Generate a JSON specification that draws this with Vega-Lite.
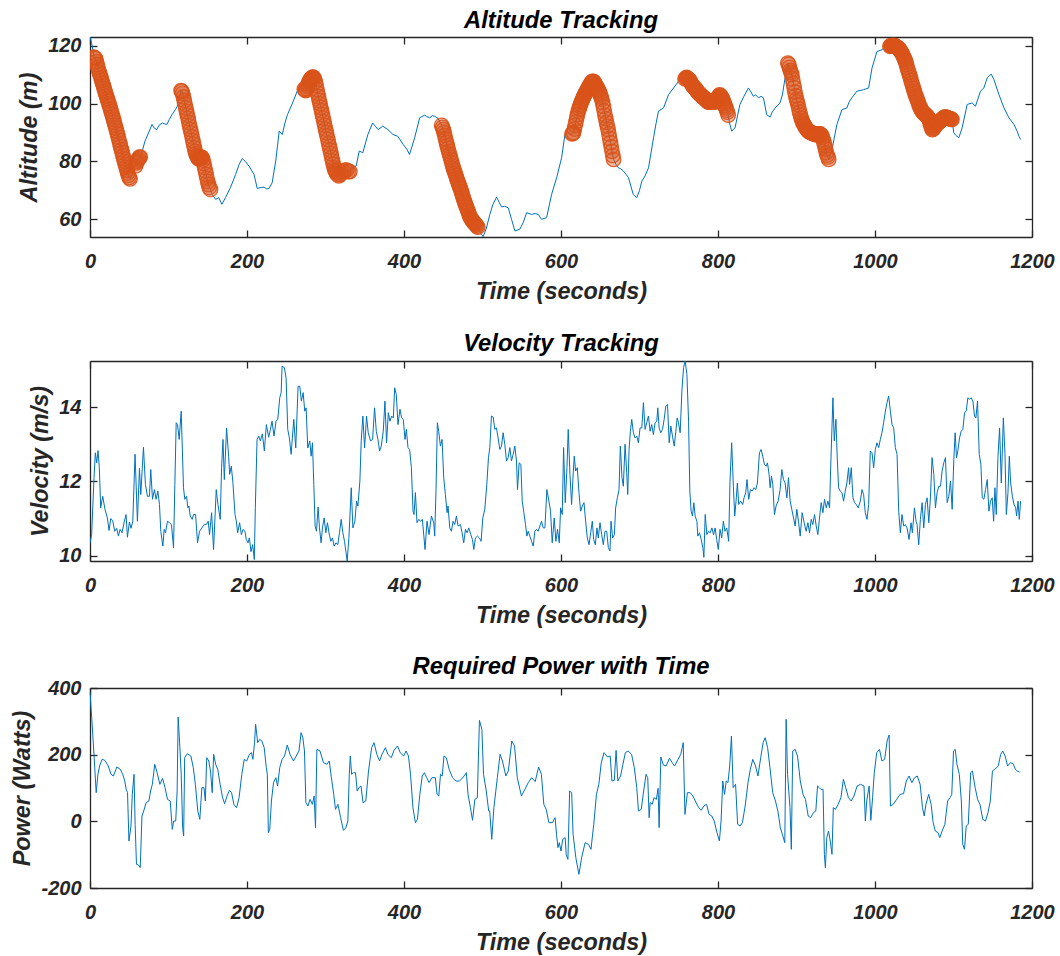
{
"$schema": "https://vega.github.io/schema/vega-lite/v6.json",
"padding": {"left": 10, "top": 8, "right": 5, "bottom": 5},
"spacing": 28,
"config": {
 "font": "Liberation Sans",
 "view": {"stroke": null},
 "axis": {"labelFont": "Liberation Sans", "labelFontSize": 20, "labelFontWeight": "bold", "labelFontStyle": "italic", "labelColor": "#262626", "titleFont": "Liberation Sans", "titleFontSize": 23.4, "titleFontWeight": "bold", "titleFontStyle": "italic", "titleColor": "#262626", "domainColor": "#262626", "domainWidth": 1.3, "tickColor": "#262626", "tickWidth": 1.3, "tickSize": -7, "grid": false, "labelFlush": false, "labelOverlap": false, "labelPadding": 16, "titlePadding": 4},
 "axisX": {"labelPadding": 21, "titlePadding": 9},
 "axisY": {"titlePadding": 6},
 "title": {"font": "Liberation Sans", "fontSize": 23.8, "fontWeight": "bold", "fontStyle": "italic", "color": "#000000", "offset": 5, "frame": "group", "anchor": "middle"}
},
"datasets": {
"alt": [
{"t":0,"h":123,"c":0},{"t":2,"h":121,"c":0},{"t":4,"h":118,"c":0},
{"t":5,"h":116,"c":1},{"t":6,"h":115.8,"c":1},{"t":7,"h":115.5,"c":1},{"t":8,"h":114.5,"c":1},{"t":9,"h":113.5,"c":1},{"t":10,"h":112.5,"c":1},{"t":11,"h":111.5,"c":1},{"t":12,"h":110.6,"c":1},{"t":13,"h":109.8,"c":1},{"t":14,"h":108.9,"c":1},{"t":15,"h":108,"c":1},{"t":16,"h":107.1,"c":1},{"t":17,"h":106.2,"c":1},{"t":18,"h":105.2,"c":1},{"t":19,"h":104.3,"c":1},{"t":20,"h":103.5,"c":1},{"t":21,"h":102.6,"c":1},{"t":22,"h":101.7,"c":1},{"t":23,"h":100.9,"c":1},{"t":24,"h":100,"c":1},{"t":25,"h":99.2,"c":1},{"t":26,"h":98.2,"c":1},{"t":27,"h":97.3,"c":1},{"t":28,"h":96.4,"c":1},{"t":29,"h":95.5,"c":1},{"t":30,"h":94.5,"c":1},{"t":31,"h":93.5,"c":1},{"t":32,"h":92.5,"c":1},{"t":33,"h":91.5,"c":1},{"t":34,"h":90.5,"c":1},{"t":35,"h":89.5,"c":1},{"t":36,"h":88.4,"c":1},{"t":37,"h":87.3,"c":1},{"t":38,"h":86.2,"c":1},{"t":39,"h":85.2,"c":1},{"t":40,"h":84.1,"c":1},{"t":41,"h":83.1,"c":1},{"t":42,"h":82,"c":1},{"t":43,"h":81,"c":1},{"t":44,"h":80,"c":1},{"t":45,"h":79,"c":1},{"t":46,"h":78,"c":1},{"t":47,"h":77,"c":1},{"t":48,"h":76,"c":1},{"t":49,"h":75.2,"c":1},{"t":50,"h":74.5,"c":1},{"t":51,"h":74,"c":1},
{"t":53,"h":75,"c":0},{"t":56,"h":77.5,"c":0},
{"t":58,"h":78.5,"c":1},{"t":59,"h":79.5,"c":1},{"t":60,"h":80,"c":1},{"t":61,"h":80.5,"c":1},{"t":62,"h":81,"c":1},{"t":63,"h":81.5,"c":1},{"t":64,"h":81.5,"c":1},
{"t":66,"h":83,"c":0},{"t":68,"h":85,"c":0},{"t":70,"h":87,"c":0},{"t":74,"h":89.5,"c":0},{"t":79,"h":92.8,"c":0},{"t":82,"h":91.5,"c":0},{"t":85,"h":91,"c":0},{"t":88,"h":92.5,"c":0},{"t":92,"h":93.3,"c":0},{"t":95,"h":93,"c":0},{"t":98,"h":92.8,"c":0},{"t":101,"h":94.5,"c":0},{"t":104.5,"h":96.2,"c":0},{"t":109,"h":98,"c":0},{"t":111,"h":99,"c":0},{"t":113,"h":101,"c":0},
{"t":116,"h":104.5,"c":1},{"t":117,"h":104.2,"c":1},{"t":118,"h":103.5,"c":1},{"t":119,"h":102.3,"c":1},{"t":120,"h":101,"c":1},{"t":121,"h":99.8,"c":1},{"t":122,"h":98.5,"c":1},{"t":123,"h":97.2,"c":1},{"t":124,"h":96,"c":1},{"t":125,"h":94.8,"c":1},{"t":126,"h":93.5,"c":1},{"t":127,"h":92.2,"c":1},{"t":128,"h":91,"c":1},{"t":129,"h":89.8,"c":1},{"t":130,"h":88.5,"c":1},{"t":131,"h":87.2,"c":1},{"t":132,"h":86,"c":1},{"t":133,"h":84.7,"c":1},{"t":134,"h":83.5,"c":1},{"t":135,"h":82.7,"c":1},{"t":136,"h":82,"c":1},{"t":137,"h":81.5,"c":1},{"t":138,"h":81,"c":1},{"t":139,"h":81,"c":1},{"t":140,"h":81,"c":1},{"t":141,"h":81.3,"c":1},{"t":142,"h":81.5,"c":1},{"t":143,"h":81.2,"c":1},{"t":144,"h":80.5,"c":1},{"t":145,"h":79.3,"c":1},{"t":146,"h":78,"c":1},{"t":147,"h":76.8,"c":1},{"t":148,"h":75.5,"c":1},{"t":149,"h":74.2,"c":1},{"t":150,"h":73,"c":1},{"t":151,"h":72,"c":1},{"t":152,"h":71,"c":1},{"t":153.5,"h":70.3,"c":1},
{"t":156,"h":68.5,"c":0},{"t":160,"h":66.9,"c":0},{"t":164,"h":67.5,"c":0},{"t":168,"h":65.2,"c":0},{"t":172.6,"h":67.5,"c":0},{"t":179,"h":71,"c":0},{"t":185.5,"h":75.5,"c":0},{"t":190,"h":79,"c":0},{"t":194,"h":81,"c":0},{"t":198,"h":80,"c":0},{"t":202.5,"h":78.4,"c":0},{"t":209,"h":75.5,"c":0},{"t":213,"h":70.7,"c":0},{"t":218,"h":71,"c":0},{"t":221.7,"h":71.1,"c":0},{"t":225,"h":70.5,"c":0},{"t":228,"h":70.7,"c":0},{"t":232,"h":72.6,"c":0},{"t":236.6,"h":80.1,"c":0},{"t":241,"h":90.5,"c":0},{"t":245,"h":89.3,"c":0},{"t":248,"h":93,"c":0},{"t":251.6,"h":96.2,"c":0},{"t":258,"h":100.2,"c":0},{"t":264,"h":104.3,"c":0},{"t":268,"h":105.5,"c":0},{"t":271,"h":104.5,"c":0},
{"t":273,"h":105,"c":1},{"t":274,"h":104.7,"c":1},{"t":275,"h":104.5,"c":1},{"t":276,"h":105.2,"c":1},{"t":277,"h":106,"c":1},{"t":278,"h":106.8,"c":1},{"t":279,"h":107.5,"c":1},{"t":280,"h":108,"c":1},{"t":281,"h":108.5,"c":1},{"t":282,"h":108.8,"c":1},{"t":283,"h":109,"c":1},{"t":284,"h":109.1,"c":1},{"t":285,"h":109,"c":1},{"t":286,"h":108.4,"c":1},{"t":287,"h":107.5,"c":1},{"t":288,"h":106.2,"c":1},{"t":289,"h":104.8,"c":1},{"t":290,"h":103.6,"c":1},{"t":291,"h":102.4,"c":1},{"t":292,"h":101.1,"c":1},{"t":293,"h":99.9,"c":1},{"t":294,"h":98.7,"c":1},{"t":295,"h":97.5,"c":1},{"t":296,"h":96.2,"c":1},{"t":297,"h":95,"c":1},{"t":298,"h":93.7,"c":1},{"t":299,"h":92.5,"c":1},{"t":300,"h":91.2,"c":1},{"t":301,"h":90,"c":1},{"t":302,"h":88.8,"c":1},{"t":303,"h":87.6,"c":1},{"t":304,"h":86.3,"c":1},{"t":305,"h":85.1,"c":1},{"t":306,"h":83.9,"c":1},{"t":307,"h":82.7,"c":1},{"t":308,"h":81.4,"c":1},{"t":309,"h":80.2,"c":1},{"t":310,"h":79,"c":1},{"t":311,"h":77.8,"c":1},{"t":312,"h":77.1,"c":1},{"t":313,"h":76.5,"c":1},{"t":314,"h":76,"c":1},{"t":315,"h":75.5,"c":1},{"t":317,"h":75,"c":1},{"t":319,"h":75.5,"c":1},{"t":321,"h":76,"c":1},{"t":323,"h":76.5,"c":1},{"t":325,"h":77,"c":1},{"t":327,"h":77,"c":1},{"t":329,"h":76.5,"c":1},{"t":331,"h":76.5,"c":1},
{"t":335,"h":78,"c":0},{"t":339,"h":78.4,"c":0},{"t":343,"h":83.6,"c":0},{"t":347.5,"h":83,"c":0},{"t":354,"h":89.3,"c":0},{"t":360,"h":93.3,"c":0},{"t":364,"h":92,"c":0},{"t":367,"h":91,"c":0},{"t":373,"h":92.2,"c":0},{"t":379.5,"h":91,"c":0},{"t":386,"h":89.3,"c":0},{"t":392,"h":88.7,"c":0},{"t":399,"h":85.9,"c":0},{"t":404,"h":84.1,"c":0},{"t":407,"h":82.4,"c":0},{"t":410,"h":85,"c":0},{"t":413.6,"h":88.2,"c":0},{"t":420,"h":95.1,"c":0},{"t":426.4,"h":96,"c":0},{"t":429,"h":95.5,"c":0},{"t":432.8,"h":95.1,"c":0},{"t":436,"h":95.8,"c":0},{"t":439,"h":95.6,"c":0},{"t":443,"h":95,"c":0},{"t":446,"h":93.5,"c":0},
{"t":448,"h":92.5,"c":1},{"t":449,"h":91.8,"c":1},{"t":450,"h":91,"c":1},{"t":451,"h":90,"c":1},{"t":452,"h":89,"c":1},{"t":453,"h":87.7,"c":1},{"t":454,"h":86.5,"c":1},{"t":455,"h":85.5,"c":1},{"t":456,"h":84.5,"c":1},{"t":457,"h":83.5,"c":1},{"t":458,"h":82.5,"c":1},{"t":459,"h":81.5,"c":1},{"t":460,"h":80.5,"c":1},{"t":461,"h":79.5,"c":1},{"t":462,"h":78.5,"c":1},{"t":463,"h":77.6,"c":1},{"t":464,"h":76.8,"c":1},{"t":465,"h":76,"c":1},{"t":466,"h":75.2,"c":1},{"t":467,"h":74.3,"c":1},{"t":468,"h":73.5,"c":1},{"t":469,"h":72.7,"c":1},{"t":470,"h":72,"c":1},{"t":471,"h":71.2,"c":1},{"t":472,"h":70.5,"c":1},{"t":473,"h":69.6,"c":1},{"t":474,"h":68.8,"c":1},{"t":475,"h":67.9,"c":1},{"t":476,"h":67,"c":1},{"t":477,"h":66.2,"c":1},{"t":478,"h":65.5,"c":1},{"t":479,"h":64.7,"c":1},{"t":480,"h":64,"c":1},{"t":481,"h":63.2,"c":1},{"t":482,"h":62.5,"c":1},{"t":483,"h":61.7,"c":1},{"t":484,"h":61,"c":1},{"t":485,"h":60.5,"c":1},{"t":486,"h":60,"c":1},{"t":487,"h":59.6,"c":1},{"t":488,"h":59.3,"c":1},{"t":489,"h":58.9,"c":1},{"t":490,"h":58.6,"c":1},{"t":491,"h":58.3,"c":1},{"t":492,"h":58,"c":1},{"t":493,"h":57.6,"c":1},{"t":494,"h":57.3,"c":1},
{"t":497,"h":55.5,"c":0},{"t":500.8,"h":54,"c":0},{"t":505,"h":57,"c":0},{"t":509.4,"h":61.7,"c":0},{"t":513,"h":65,"c":0},{"t":517.9,"h":67.7,"c":0},{"t":521,"h":66,"c":0},{"t":524.2,"h":64.3,"c":0},{"t":528,"h":64.5,"c":0},{"t":532.8,"h":64,"c":0},{"t":537,"h":60,"c":0},{"t":541.3,"h":56,"c":0},{"t":547.6,"h":56.6,"c":0},{"t":552,"h":59,"c":0},{"t":556.2,"h":62.3,"c":0},{"t":562.5,"h":61.7,"c":0},{"t":567,"h":62,"c":0},{"t":571,"h":61.7,"c":0},{"t":575.3,"h":60,"c":0},{"t":581.7,"h":60.6,"c":0},{"t":588,"h":68.6,"c":0},{"t":594.5,"h":74.4,"c":0},{"t":600.8,"h":81.3,"c":0},{"t":605,"h":89.3,"c":0},{"t":609,"h":90,"c":0},{"t":612,"h":89.5,"c":0},
{"t":614,"h":89.5,"c":1},{"t":615,"h":89.7,"c":1},{"t":616,"h":90,"c":1},{"t":617,"h":91.2,"c":1},{"t":618,"h":92.5,"c":1},{"t":619,"h":93.7,"c":1},{"t":620,"h":95,"c":1},{"t":621,"h":96.2,"c":1},{"t":622,"h":97.4,"c":1},{"t":623,"h":98.2,"c":1},{"t":624,"h":99,"c":1},{"t":625,"h":99.8,"c":1},{"t":626,"h":100.5,"c":1},{"t":627,"h":101.2,"c":1},{"t":628,"h":101.8,"c":1},{"t":629,"h":102.4,"c":1},{"t":630,"h":103,"c":1},{"t":631,"h":103.5,"c":1},{"t":632,"h":104,"c":1},{"t":633,"h":104.5,"c":1},{"t":634,"h":105,"c":1},{"t":635,"h":105.5,"c":1},{"t":636,"h":106,"c":1},{"t":637,"h":106.5,"c":1},{"t":638,"h":107,"c":1},{"t":639,"h":107.4,"c":1},{"t":640,"h":107.7,"c":1},{"t":641,"h":107.7,"c":1},{"t":642,"h":107.5,"c":1},{"t":643,"h":107,"c":1},{"t":644,"h":106.5,"c":1},{"t":645,"h":106,"c":1},{"t":646,"h":105.5,"c":1},{"t":647,"h":105,"c":1},{"t":648,"h":104.5,"c":1},{"t":649,"h":103.8,"c":1},{"t":650,"h":103,"c":1},{"t":651,"h":102.3,"c":1},{"t":652,"h":101.5,"c":1},{"t":653,"h":100.3,"c":1},{"t":654,"h":99,"c":1},{"t":655,"h":97.5,"c":1},{"t":656,"h":96,"c":1},{"t":657,"h":94.8,"c":1},{"t":658,"h":93.5,"c":1},{"t":659,"h":92.2,"c":1},{"t":660,"h":91,"c":1},{"t":661,"h":89.5,"c":1},{"t":662,"h":88,"c":1},{"t":663,"h":86.5,"c":1},{"t":664,"h":85,"c":1},{"t":665,"h":83.5,"c":1},{"t":666,"h":82,"c":1},{"t":667,"h":80.7,"c":1},
{"t":670,"h":79,"c":0},{"t":673,"h":77.8,"c":0},{"t":676,"h":77.5,"c":0},{"t":679.5,"h":76.7,"c":0},{"t":683,"h":75.5,"c":0},{"t":686,"h":74.4,"c":0},{"t":692,"h":68.6,"c":0},{"t":696.6,"h":67.5,"c":0},{"t":700,"h":70,"c":0},{"t":703,"h":73.2,"c":0},{"t":707,"h":75,"c":0},{"t":711.5,"h":77.8,"c":0},{"t":717.9,"h":88.2,"c":0},{"t":721,"h":93,"c":0},{"t":724.2,"h":97.4,"c":0},{"t":730.6,"h":98.5,"c":0},{"t":737,"h":103.1,"c":0},{"t":743.4,"h":105.4,"c":0},{"t":749.8,"h":107.7,"c":0},{"t":754,"h":108.5,"c":0},
{"t":758,"h":108.5,"c":1},{"t":759,"h":108.8,"c":1},{"t":760,"h":109,"c":1},{"t":761,"h":108.8,"c":1},{"t":762,"h":108.5,"c":1},{"t":763,"h":108.3,"c":1},{"t":764,"h":108,"c":1},{"t":765,"h":107.5,"c":1},{"t":766,"h":107,"c":1},{"t":767,"h":106.5,"c":1},{"t":768,"h":106,"c":1},{"t":769,"h":105.8,"c":1},{"t":770,"h":105.5,"c":1},{"t":771,"h":105.2,"c":1},{"t":772,"h":105,"c":1},{"t":773,"h":104.5,"c":1},{"t":774,"h":104,"c":1},{"t":775,"h":103.8,"c":1},{"t":776,"h":103.5,"c":1},{"t":777,"h":103.2,"c":1},{"t":778,"h":103,"c":1},{"t":779,"h":102.7,"c":1},{"t":780,"h":102.5,"c":1},{"t":781,"h":102.2,"c":1},{"t":782,"h":102,"c":1},{"t":783,"h":101.7,"c":1},{"t":784,"h":101.5,"c":1},{"t":785,"h":101.2,"c":1},{"t":786,"h":101,"c":1},{"t":787,"h":100.7,"c":1},{"t":788,"h":100.5,"c":1},{"t":789,"h":100.5,"c":1},{"t":790,"h":100.5,"c":1},{"t":791,"h":100.7,"c":1},{"t":792,"h":101,"c":1},{"t":793,"h":101,"c":1},{"t":794,"h":101,"c":1},{"t":795,"h":100.7,"c":1},{"t":796,"h":100.5,"c":1},{"t":797,"h":100.7,"c":1},{"t":798,"h":101,"c":1},{"t":799,"h":101.5,"c":1},{"t":800,"h":102,"c":1},{"t":801,"h":102.5,"c":1},{"t":802,"h":103,"c":1},{"t":803,"h":102.8,"c":1},{"t":804,"h":102.5,"c":1},{"t":805,"h":102,"c":1},{"t":806,"h":101.5,"c":1},{"t":807,"h":100.8,"c":1},{"t":808,"h":100,"c":1},{"t":809,"h":99.2,"c":1},{"t":810,"h":98.5,"c":1},{"t":811,"h":97.7,"c":1},{"t":812,"h":97,"c":1},{"t":813,"h":96,"c":1},
{"t":815,"h":93,"c":0},{"t":817.4,"h":90.5,"c":0},{"t":821.7,"h":91.6,"c":0},{"t":825,"h":96,"c":0},{"t":828,"h":99.7,"c":0},{"t":833,"h":102.5,"c":0},{"t":838.7,"h":105.4,"c":0},{"t":842,"h":104,"c":0},{"t":845,"h":102.5,"c":0},{"t":848,"h":103,"c":0},{"t":851.5,"h":102,"c":0},{"t":855,"h":102.5,"c":0},{"t":857.9,"h":102,"c":0},{"t":862,"h":96.2,"c":0},{"t":866.4,"h":95.3,"c":0},{"t":869,"h":97,"c":0},{"t":872.8,"h":98.5,"c":0},{"t":879,"h":100.2,"c":0},{"t":882,"h":103,"c":0},{"t":885.5,"h":108.9,"c":0},
{"t":889,"h":114,"c":1},{"t":890,"h":113.5,"c":1},{"t":891,"h":112.5,"c":1},{"t":892,"h":111.5,"c":1},{"t":893,"h":110.8,"c":1},{"t":894,"h":110,"c":1},{"t":895,"h":108.5,"c":1},{"t":896,"h":107,"c":1},{"t":897,"h":105.5,"c":1},{"t":898,"h":104,"c":1},{"t":899,"h":102.7,"c":1},{"t":900,"h":101.5,"c":1},{"t":901,"h":100.5,"c":1},{"t":902,"h":99.5,"c":1},{"t":903,"h":98.2,"c":1},{"t":904,"h":97,"c":1},{"t":905,"h":96,"c":1},{"t":906,"h":95,"c":1},{"t":907,"h":94.2,"c":1},{"t":908,"h":93.5,"c":1},{"t":909,"h":93,"c":1},{"t":910,"h":92.5,"c":1},{"t":911,"h":92,"c":1},{"t":912,"h":91.5,"c":1},{"t":913,"h":91.2,"c":1},{"t":914,"h":90.8,"c":1},{"t":915,"h":90.5,"c":1},{"t":916,"h":90.3,"c":1},{"t":917,"h":90.1,"c":1},{"t":918,"h":90,"c":1},{"t":919,"h":89.9,"c":1},{"t":920,"h":89.8,"c":1},{"t":921,"h":89.7,"c":1},{"t":922,"h":89.5,"c":1},{"t":923,"h":89.4,"c":1},{"t":924,"h":89.3,"c":1},{"t":925,"h":89.3,"c":1},{"t":926,"h":89.3,"c":1},{"t":927,"h":89.4,"c":1},{"t":928,"h":89.5,"c":1},{"t":929,"h":89.5,"c":1},{"t":930,"h":89.5,"c":1},{"t":931,"h":89.3,"c":1},{"t":932,"h":89,"c":1},{"t":933,"h":88.3,"c":1},{"t":934,"h":87.5,"c":1},{"t":935,"h":86.5,"c":1},{"t":936,"h":85.5,"c":1},{"t":937,"h":84.3,"c":1},{"t":938,"h":83,"c":1},{"t":939,"h":82.2,"c":1},{"t":940,"h":81.5,"c":1},{"t":941,"h":80.7,"c":1},
{"t":945,"h":83.6,"c":0},{"t":948,"h":88,"c":0},{"t":951.5,"h":92.8,"c":0},{"t":957.9,"h":97.9,"c":0},{"t":964.2,"h":98.5,"c":0},{"t":967,"h":100.5,"c":0},{"t":970.6,"h":102,"c":0},{"t":977,"h":104.3,"c":0},{"t":981,"h":104.5,"c":0},{"t":985.5,"h":104.8,"c":0},{"t":991.9,"h":105.4,"c":0},{"t":996.2,"h":112.3,"c":0},{"t":1002.5,"h":118,"c":0},{"t":1009,"h":118.6,"c":0},{"t":1013.2,"h":119.8,"c":0},{"t":1016,"h":119.5,"c":0},
{"t":1019,"h":119.8,"c":1},{"t":1020,"h":119.9,"c":1},{"t":1021,"h":120,"c":1},{"t":1022,"h":120,"c":1},{"t":1023,"h":120,"c":1},{"t":1024,"h":120,"c":1},{"t":1025,"h":120,"c":1},{"t":1026,"h":119.9,"c":1},{"t":1027,"h":119.7,"c":1},{"t":1028,"h":119.5,"c":1},{"t":1029,"h":119.3,"c":1},{"t":1030,"h":119.1,"c":1},{"t":1031,"h":118.8,"c":1},{"t":1032,"h":118.4,"c":1},{"t":1033,"h":118,"c":1},{"t":1034,"h":117.5,"c":1},{"t":1035,"h":117,"c":1},{"t":1036,"h":116.4,"c":1},{"t":1037,"h":115.8,"c":1},{"t":1038,"h":115.2,"c":1},{"t":1039,"h":114.5,"c":1},{"t":1040,"h":113.5,"c":1},{"t":1041,"h":112.5,"c":1},{"t":1042,"h":111.6,"c":1},{"t":1043,"h":110.8,"c":1},{"t":1044,"h":109.9,"c":1},{"t":1045,"h":109,"c":1},{"t":1046,"h":108,"c":1},{"t":1047,"h":107,"c":1},{"t":1048,"h":106.1,"c":1},{"t":1049,"h":105.2,"c":1},{"t":1050,"h":104.3,"c":1},{"t":1051,"h":103.5,"c":1},{"t":1052,"h":102.7,"c":1},{"t":1053,"h":102,"c":1},{"t":1054,"h":101.2,"c":1},{"t":1055,"h":100.5,"c":1},{"t":1056,"h":99.7,"c":1},{"t":1057,"h":99,"c":1},{"t":1058,"h":98.4,"c":1},{"t":1059,"h":97.8,"c":1},{"t":1060,"h":97.4,"c":1},{"t":1061,"h":97,"c":1},{"t":1062,"h":96.7,"c":1},{"t":1063,"h":96.5,"c":1},{"t":1064,"h":96.2,"c":1},{"t":1065,"h":96,"c":1},{"t":1066,"h":95.7,"c":1},{"t":1067,"h":95.5,"c":1},{"t":1068,"h":95,"c":1},{"t":1069,"h":94.5,"c":1},{"t":1070,"h":93.5,"c":1},{"t":1071,"h":92.5,"c":1},{"t":1072,"h":91.7,"c":1},{"t":1073,"h":91,"c":1},{"t":1074,"h":91.2,"c":1},{"t":1075,"h":91.5,"c":1},{"t":1076,"h":92,"c":1},{"t":1077,"h":92.5,"c":1},{"t":1078,"h":92.8,"c":1},{"t":1079,"h":93,"c":1},{"t":1080,"h":93.2,"c":1},{"t":1081,"h":93.5,"c":1},{"t":1082,"h":93.7,"c":1},{"t":1083,"h":94,"c":1},{"t":1084,"h":94.2,"c":1},{"t":1085,"h":94.5,"c":1},{"t":1086,"h":94.7,"c":1},{"t":1087,"h":95,"c":1},{"t":1088,"h":95.2,"c":1},{"t":1089,"h":95.3,"c":1},{"t":1090,"h":95.3,"c":1},{"t":1091,"h":95.2,"c":1},{"t":1092,"h":95.1,"c":1},{"t":1093,"h":95,"c":1},{"t":1094,"h":94.9,"c":1},{"t":1095,"h":94.8,"c":1},{"t":1096,"h":94.7,"c":1},{"t":1097,"h":94.6,"c":1},{"t":1098,"h":94.5,"c":1},
{"t":1100.4,"h":89.9,"c":0},{"t":1103,"h":89,"c":0},{"t":1106.8,"h":88.2,"c":0},{"t":1111,"h":91.6,"c":0},{"t":1117.4,"h":99.7,"c":0},{"t":1123.8,"h":100.2,"c":0},{"t":1128,"h":99.1,"c":0},{"t":1134.4,"h":104.3,"c":0},{"t":1138.7,"h":105.4,"c":0},{"t":1143,"h":108.9,"c":0},{"t":1148,"h":110.2,"c":0},{"t":1151.5,"h":108.3,"c":0},{"t":1157.9,"h":103.1,"c":0},{"t":1164.3,"h":98.5,"c":0},{"t":1170.6,"h":95.1,"c":0},{"t":1177,"h":92.8,"c":0},{"t":1181,"h":90.5,"c":0},{"t":1183.4,"h":88.7,"c":0},{"t":1185.5,"h":87.6,"c":0}
],
"vel": [
{"t":0,"v":10.35},{"t":2.1,"v":10.57},{"t":5.1,"v":12.1},{"t":6.8,"v":12.77},{"t":8.5,"v":12.5},{"t":10.2,"v":12.83},{"t":11.9,"v":12.37},{"t":13.6,"v":11.29},{"t":16.2,"v":11.6},{"t":19.1,"v":11.25},{"t":22.1,"v":11.02},{"t":24.3,"v":10.68},{"t":26.4,"v":11.0},{"t":28.9,"v":10.95},{"t":31.5,"v":10.66},{"t":34,"v":10.74},{"t":36.2,"v":10.53},{"t":38.3,"v":10.71},{"t":40.8,"v":10.62},{"t":43.4,"v":10.89},{"t":45.9,"v":11.11},{"t":47.7,"v":10.5},{"t":50.2,"v":10.91},{"t":52.3,"v":10.74},{"t":54.5,"v":10.93},{"t":57.4,"v":12.73},{"t":60.4,"v":10.93},{"t":63,"v":12.35},{"t":64.7,"v":11.65},{"t":68.1,"v":12.92},{"t":70.6,"v":11.92},{"t":73.2,"v":11.6},{"t":75.7,"v":11.6},{"t":77.4,"v":12.32},{"t":79.6,"v":11.52},{"t":82.1,"v":11.78},{"t":84.2,"v":11.52},{"t":86.4,"v":11.74},{"t":88.5,"v":11.38},{"t":90.2,"v":10.66},{"t":92.8,"v":10.26},{"t":94.5,"v":10.71},{"t":96.2,"v":10.62},{"t":98.7,"v":10.93},{"t":101.3,"v":10.89},{"t":103.8,"v":10.84},{"t":106.4,"v":10.22},{"t":108.1,"v":11.92},{"t":109.8,"v":13.58},{"t":111.5,"v":13.53},{"t":113.6,"v":13.13},{"t":116.2,"v":13.89},{"t":119.1,"v":11.83},{"t":120.8,"v":11.52},{"t":123,"v":11.6},{"t":124.7,"v":11.29},{"t":126,"v":11.34},{"t":127.7,"v":11.07},{"t":130.2,"v":10.98},{"t":131.9,"v":11.11},{"t":134.5,"v":11.11},{"t":137,"v":10.35},{"t":139.6,"v":10.66},{"t":142.5,"v":10.75},{"t":145.5,"v":10.84},{"t":148.1,"v":10.84},{"t":150.6,"v":10.93},{"t":152.3,"v":10.57},{"t":154.9,"v":11.16},{"t":157.4,"v":10.17},{"t":160.8,"v":11.78},{"t":163,"v":11.38},{"t":165.9,"v":10.98},{"t":167.6,"v":12.37},{"t":169.4,"v":13.13},{"t":171.1,"v":12.05},{"t":174,"v":13.44},{"t":176.6,"v":12.68},{"t":177.9,"v":12.19},{"t":180,"v":12.41},{"t":182.1,"v":11.96},{"t":184.7,"v":11.11},{"t":186.4,"v":10.93},{"t":188.1,"v":10.62},{"t":190.6,"v":10.89},{"t":192.8,"v":10.57},{"t":194.9,"v":10.71},{"t":197.4,"v":10.66},{"t":199.1,"v":10.44},{"t":201.3,"v":10.35},{"t":203,"v":10.48},{"t":205.1,"v":10.11},{"t":207.2,"v":10.3},{"t":209.3,"v":9.9},{"t":210.6,"v":11.29},{"t":212.8,"v":13.13},{"t":214.9,"v":13.22},{"t":217,"v":13.09},{"t":219.6,"v":13.28},{"t":222.1,"v":12.82},{"t":224.7,"v":13.53},{"t":227.6,"v":13.19},{"t":229.8,"v":13.4},{"t":231.9,"v":13.62},{"t":234.4,"v":13.22},{"t":237,"v":13.62},{"t":239.2,"v":13.67},{"t":241.7,"v":14.25},{"t":243.5,"v":14.39},{"t":244.7,"v":15.1},{"t":247.6,"v":15.06},{"t":249.8,"v":14.79},{"t":251.9,"v":13.4},{"t":254,"v":13.17},{"t":256.2,"v":12.73},{"t":259.6,"v":13.67},{"t":262.1,"v":12.9},{"t":265.1,"v":14.56},{"t":267.2,"v":14.56},{"t":269.3,"v":14.16},{"t":271.5,"v":14.39},{"t":273.6,"v":13.89},{"t":275.3,"v":13.98},{"t":277.4,"v":12.9},{"t":280,"v":13.09},{"t":281.7,"v":12.68},{"t":283.4,"v":13.04},{"t":285.1,"v":11.92},{"t":286.8,"v":10.8},{"t":288.5,"v":10.66},{"t":290.6,"v":11.31},{"t":292.3,"v":10.75},{"t":294.4,"v":10.35},{"t":296.1,"v":10.75},{"t":298.3,"v":11.02},{"t":300.4,"v":10.62},{"t":302.5,"v":10.89},{"t":304.7,"v":10.59},{"t":306.8,"v":10.39},{"t":308.9,"v":10.48},{"t":311,"v":10.26},{"t":313.2,"v":10.35},{"t":315.7,"v":10.3},{"t":317.8,"v":10.62},{"t":320,"v":10.98},{"t":322.1,"v":10.62},{"t":324.2,"v":10.39},{"t":325.9,"v":10.13},{"t":327.6,"v":9.86},{"t":329.8,"v":10.48},{"t":332.8,"v":11.83},{"t":334.9,"v":10.75},{"t":337.4,"v":10.93},{"t":339.6,"v":11.47},{"t":341.3,"v":11.34},{"t":343.8,"v":12.01},{"t":345.5,"v":13.09},{"t":347.6,"v":13.76},{"t":349.8,"v":12.9},{"t":352.3,"v":13.76},{"t":354.4,"v":13.31},{"t":357.4,"v":13.09},{"t":360,"v":13.13},{"t":362.5,"v":13.98},{"t":364.7,"v":13.35},{"t":366.8,"v":13.13},{"t":368.9,"v":12.82},{"t":371,"v":12.95},{"t":373.6,"v":13.35},{"t":375.7,"v":14.16},{"t":377.8,"v":13.04},{"t":380,"v":13.85},{"t":382.1,"v":13.62},{"t":384.2,"v":13.76},{"t":386.4,"v":13.71},{"t":388.1,"v":14.52},{"t":390.2,"v":14.34},{"t":392.3,"v":13.53},{"t":394.9,"v":13.94},{"t":397,"v":13.71},{"t":399.1,"v":13.67},{"t":401.3,"v":13.13},
{"t":403,"v":13.4},{"t":405.1,"v":12.91},{"t":407.2,"v":12.86},{"t":409.4,"v":12.37},{"t":411.5,"v":11.2},{"t":412.8,"v":11.11},{"t":414.5,"v":11.7},{"t":416.6,"v":10.89},{"t":418.7,"v":10.98},{"t":421.3,"v":10.93},{"t":423.4,"v":10.98},{"t":425.5,"v":10.48},{"t":426.8,"v":10.17},{"t":429.3,"v":10.93},{"t":431.9,"v":10.57},{"t":434.9,"v":11.07},{"t":437.9,"v":10.89},{"t":439.1,"v":10.53},{"t":440.8,"v":11.78},{"t":442.5,"v":13.58},{"t":444.2,"v":13.35},{"t":446.4,"v":12.95},{"t":448.5,"v":13.13},{"t":450.6,"v":12.1},{"t":452.7,"v":11.65},{"t":454.9,"v":11.16},{"t":456.1,"v":11.34},{"t":458.3,"v":10.75},{"t":460.4,"v":10.66},{"t":462.5,"v":10.93},{"t":464.6,"v":10.84},{"t":466.8,"v":11.07},{"t":468.9,"v":10.8},{"t":471.9,"v":10.84},{"t":474,"v":10.62},{"t":476.1,"v":10.35},{"t":478.3,"v":10.71},{"t":480.4,"v":10.62},{"t":482.5,"v":10.75},{"t":485.1,"v":10.57},{"t":487.2,"v":10.44},{"t":488.9,"v":10.17},{"t":491,"v":10.48},{"t":493.6,"v":10.53},{"t":496.1,"v":10.48},{"t":498.2,"v":10.39},{"t":500.4,"v":11.02},{"t":502.9,"v":11.25},{"t":505.5,"v":11.92},{"t":507.6,"v":12.64},{"t":509.3,"v":12.91},{"t":511.4,"v":13.76},{"t":513.6,"v":13.73},{"t":515.7,"v":13.4},{"t":517.8,"v":13.44},{"t":519.9,"v":13.17},{"t":522.1,"v":12.86},{"t":524.2,"v":12.95},{"t":526.3,"v":13.31},{"t":528.4,"v":13},{"t":530.6,"v":12.55},{"t":532.7,"v":12.64},{"t":534.8,"v":12.91},{"t":536.9,"v":12.55},{"t":539.1,"v":12.73},{"t":541.2,"v":12.95},{"t":543.3,"v":12.55},{"t":544.6,"v":11.78},{"t":546.7,"v":12.5},{"t":548.9,"v":12.46},{"t":550.6,"v":11.47},{"t":552.7,"v":11.16},{"t":554.8,"v":10.84},{"t":556.5,"v":10.53},{"t":558.2,"v":10.66},{"t":560.3,"v":10.53},{"t":562.5,"v":10.39},{"t":564.6,"v":10.26},{"t":566.7,"v":10.66},{"t":568.8,"v":10.71},{"t":571,"v":10.66},{"t":573.1,"v":10.8},{"t":575.2,"v":10.93},{"t":577.4,"v":10.75},{"t":579.5,"v":10.75},{"t":582,"v":11.78},{"t":584.6,"v":11.47},{"t":586.7,"v":11.2},{"t":588.8,"v":10.35},{"t":591.4,"v":11.02},{"t":593.5,"v":10.39},{"t":595.6,"v":10.71},{"t":597.8,"v":10.35},{"t":599.5,"v":11.29},{"t":601.6,"v":11.11},{"t":603.3,"v":12.91},{"t":605.4,"v":11.43},{"t":607.6,"v":12.37},{"t":609.2,"v":13.4},{"t":611.4,"v":12.19},{"t":613.5,"v":11.38},{"t":615.6,"v":12.23},{"t":616.9,"v":12.68},{"t":618.6,"v":12.28},{"t":620.8,"v":12.37},{"t":622.9,"v":11.7},{"t":625,"v":11.2},{"t":627.2,"v":11.34},{"t":629.3,"v":11.43},{"t":631.4,"v":10.93},{"t":633.5,"v":10.48},{"t":635.7,"v":10.3},{"t":637.8,"v":10.62},{"t":639.9,"v":10.93},{"t":641.6,"v":10.44},{"t":643.7,"v":10.3},{"t":645.8,"v":10.75},{"t":647.5,"v":10.48},{"t":649.7,"v":10.89},{"t":651.8,"v":10.57},{"t":653.9,"v":10.3},{"t":656.1,"v":10.66},{"t":658.2,"v":10.66},{"t":660.3,"v":10.22},{"t":662.4,"v":10.13},{"t":663.7,"v":10.93},{"t":665.8,"v":10.48},{"t":668,"v":10.57},{"t":669.6,"v":11.29},{"t":671.8,"v":11.56},{"t":673.9,"v":11.78},{"t":675.6,"v":12.95},{"t":677.7,"v":12.1},{"t":679.4,"v":11.87},{"t":681.6,"v":13},{"t":683.7,"v":12.23},{"t":685,"v":11.65},{"t":686.7,"v":12.86},{"t":688.4,"v":13.35},{"t":690.1,"v":13.67},{"t":692.2,"v":13.31},{"t":694.3,"v":13.17},{"t":696.5,"v":13.22},{"t":698.6,"v":13.04},{"t":700.7,"v":13.44},{"t":702.9,"v":13.44},{"t":705,"v":14.12},{"t":707.1,"v":13.4},{"t":709.2,"v":13.58},{"t":711.4,"v":13.76},{"t":713.5,"v":13.35},{"t":715.6,"v":13.53},{"t":717.7,"v":13.26},{"t":719.9,"v":13.58},{"t":722,"v":13.62},{"t":723.3,"v":13.98},{"t":725,"v":13.44},{"t":727.1,"v":13.31},{"t":729.3,"v":13.4},{"t":731.4,"v":13.67},{"t":733.5,"v":14.03},{"t":735.7,"v":14.07},{"t":737.8,"v":13.04},{"t":739.9,"v":13.49},{"t":742,"v":13.22},{"t":744.2,"v":12.95},{"t":746.3,"v":13.35},{"t":748,"v":13.71},{"t":749.7,"v":13.58},{"t":751.8,"v":13.31},{"t":754,"v":14.43},{"t":756.1,"v":15.06},{"t":758.2,"v":15.24},{"t":760.4,"v":14.88},{"t":762.5,"v":13.62},{"t":764.1,"v":11.74},{"t":765.8,"v":11.2},{"t":767.5,"v":11.07},{"t":769.2,"v":11.43},{"t":770.9,"v":11.07},{"t":773.1,"v":10.93},{"t":774.3,"v":10.53},{"t":776.4,"v":10.62},{"t":778.6,"v":10.44},{"t":780.7,"v":10.22},{"t":782,"v":9.96},{"t":783.7,"v":11.11},{"t":785.8,"v":10.57},{"t":787.9,"v":10.66},{"t":790.1,"v":10.62},{"t":792.2,"v":10.75},{"t":794.3,"v":10.57},{"t":796.4,"v":10.75},
{"t":798.3,"v":10.44},{"t":800.4,"v":10.17},{"t":802.6,"v":10.71},{"t":804.7,"v":10.48},{"t":806.8,"v":10.93},{"t":808.9,"v":10.66},{"t":811.1,"v":10.75},{"t":813.6,"v":10.39},{"t":815.3,"v":12.01},{"t":817.4,"v":13.04},{"t":819.6,"v":11.87},{"t":821.3,"v":11.07},{"t":823,"v":11.47},{"t":824.7,"v":11.96},{"t":826.4,"v":11.38},{"t":828.9,"v":11.47},{"t":831.5,"v":11.38},{"t":833.2,"v":11.56},{"t":835.3,"v":11.7},{"t":837,"v":12.05},{"t":839.1,"v":11.52},{"t":841.3,"v":11.78},{"t":843.4,"v":11.74},{"t":846,"v":11.83},{"t":848.1,"v":11.78},{"t":850.2,"v":11.96},{"t":852.8,"v":12.77},{"t":854.9,"v":12.86},{"t":857,"v":12.68},{"t":859.1,"v":12.46},{"t":861.3,"v":12.41},{"t":863,"v":12.5},{"t":865.1,"v":12.19},{"t":866.4,"v":11.83},{"t":868.1,"v":12.14},{"t":869.8,"v":11.92},{"t":871.9,"v":11.11},{"t":874,"v":11.34},{"t":876.6,"v":11.47},{"t":879.1,"v":11.78},{"t":881.3,"v":12.32},{"t":883.4,"v":12.05},{"t":885.5,"v":11.96},{"t":887.7,"v":11.56},{"t":889.8,"v":12.1},{"t":891.9,"v":11.47},{"t":894,"v":11.25},{"t":896.2,"v":11.02},{"t":898.3,"v":10.8},{"t":900.4,"v":11.25},{"t":902.5,"v":10.93},{"t":904.7,"v":10.53},{"t":907.2,"v":11.16},{"t":909.8,"v":10.89},{"t":912.3,"v":10.66},{"t":914.5,"v":10.89},{"t":916.6,"v":10.62},{"t":918.7,"v":10.98},{"t":920.8,"v":10.84},{"t":923,"v":11.11},{"t":925.1,"v":10.8},{"t":927.2,"v":10.57},{"t":929.3,"v":11.02},{"t":931.5,"v":11.43},{"t":933.6,"v":11.16},{"t":935.7,"v":11.52},{"t":937.9,"v":11.29},{"t":940,"v":11.47},{"t":942.1,"v":11.29},{"t":943.8,"v":12.55},{"t":946.4,"v":14.25},{"t":948.1,"v":13.09},{"t":950.2,"v":13.67},{"t":951.9,"v":12.64},{"t":953.6,"v":11.83},{"t":955.7,"v":11.74},{"t":957.9,"v":11.7},{"t":960,"v":11.47},{"t":962.1,"v":11.74},{"t":964.2,"v":11.96},{"t":966.4,"v":12.37},{"t":967.6,"v":11.92},{"t":969.8,"v":12.37},{"t":971.9,"v":11.56},{"t":974,"v":11.43},{"t":976.1,"v":11.38},{"t":978.7,"v":11.29},{"t":981.3,"v":11.47},{"t":983.4,"v":11.78},{"t":985.5,"v":11.65},{"t":987.6,"v":11.16},{"t":989.8,"v":10.98},{"t":991.9,"v":11.38},{"t":994,"v":12.82},{"t":996.2,"v":12.77},{"t":998.3,"v":12.37},{"t":1000.4,"v":12.86},{"t":1002.5,"v":13.04},{"t":1004.7,"v":12.91},{"t":1006.8,"v":13.13},{"t":1008.9,"v":13.31},{"t":1011,"v":13.58},{"t":1013.2,"v":13.89},{"t":1015.3,"v":14.12},{"t":1017.4,"v":14.3},{"t":1019.6,"v":13.89},{"t":1021.7,"v":13.53},{"t":1023.8,"v":13.44},{"t":1025.9,"v":12.91},{"t":1028.1,"v":12.73},{"t":1030.2,"v":11.2},{"t":1032.3,"v":10.62},{"t":1034.4,"v":11.11},{"t":1036.6,"v":10.8},{"t":1038.7,"v":10.84},{"t":1040.8,"v":10.75},{"t":1043.4,"v":10.44},{"t":1045.9,"v":10.89},{"t":1047.6,"v":10.62},{"t":1050.2,"v":11.29},{"t":1052.3,"v":10.93},{"t":1053.6,"v":10.84},{"t":1055.7,"v":10.3},{"t":1057.8,"v":10.98},{"t":1060,"v":11.43},{"t":1062.1,"v":10.75},{"t":1064.2,"v":11.38},{"t":1066.4,"v":11.56},{"t":1068.5,"v":10.89},{"t":1070.6,"v":11.56},{"t":1072.7,"v":12.64},{"t":1074.9,"v":12.19},{"t":1077,"v":11.29},{"t":1079.1,"v":11.7},{"t":1081.3,"v":11.87},{"t":1083.4,"v":11.87},{"t":1085.5,"v":12.28},{"t":1087.6,"v":12.5},{"t":1089.8,"v":12.64},{"t":1091.9,"v":11.43},{"t":1094,"v":11.6},{"t":1096.2,"v":12.01},{"t":1098.3,"v":11.25},{"t":1100.4,"v":12.59},{"t":1102.1,"v":13.31},{"t":1103.8,"v":12.64},{"t":1105.5,"v":12.82},{"t":1107.7,"v":13.17},{"t":1109.8,"v":13.35},{"t":1111.9,"v":13.4},{"t":1114.1,"v":13.85},{"t":1116.2,"v":13.89},{"t":1118.3,"v":14.25},{"t":1120.4,"v":14.21},{"t":1122.6,"v":14.25},{"t":1124.7,"v":14.16},{"t":1126.8,"v":13.76},{"t":1128.5,"v":13.71},{"t":1130.6,"v":14.16},{"t":1132.8,"v":12.73},{"t":1134.9,"v":12.46},{"t":1136.6,"v":11.56},{"t":1138.7,"v":11.52},{"t":1140.8,"v":11.78},{"t":1143,"v":12.05},{"t":1145.1,"v":11.2},{"t":1147.2,"v":11.47},{"t":1149.3,"v":11.56},{"t":1151.1,"v":10.93},{"t":1152.8,"v":11.83},{"t":1154.5,"v":11.11},{"t":1156.6,"v":12.64},{"t":1158.7,"v":13.44},{"t":1160.9,"v":11.96},{"t":1163.5,"v":13.71},{"t":1165.6,"v":12.73},{"t":1167.3,"v":11.11},{"t":1169.4,"v":11.7},{"t":1171.1,"v":12.68},{"t":1172.8,"v":11.96},{"t":1175,"v":11.6},{"t":1177.1,"v":11.38},{"t":1179.2,"v":11.29},{"t":1180.4,"v":11.07},{"t":1182.2,"v":11.47},{"t":1183.8,"v":10.98},{"t":1185.5,"v":11.47}
],
"pow": [
{"t":0,"p":386},{"t":2.2,"p":311},{"t":4.8,"p":211},{"t":7.9,"p":86},{"t":10.1,"p":141},{"t":12.3,"p":166},{"t":15.4,"p":186},{"t":18.9,"p":183},{"t":23.2,"p":166},{"t":26.8,"p":141},{"t":29.8,"p":136},{"t":34.2,"p":163},{"t":38.6,"p":156},{"t":41.7,"p":141},{"t":44.3,"p":121},{"t":46.1,"p":96},{"t":47.8,"p":86},{"t":49.6,"p":-59},{"t":52.2,"p":-14},{"t":53.9,"p":81},{"t":56.1,"p":141},{"t":57.5,"p":-9},{"t":59.2,"p":-129},{"t":61.8,"p":-131},{"t":64,"p":-139},{"t":66.2,"p":16},{"t":68.4,"p":31},{"t":71.5,"p":56},{"t":75,"p":61},{"t":77.2,"p":91},{"t":79.4,"p":111},{"t":82.5,"p":171},{"t":85.5,"p":146},{"t":89,"p":111},{"t":92.5,"p":129},{"t":95.6,"p":101},{"t":98.7,"p":66},{"t":102.2,"p":61},{"t":104.8,"p":-24},{"t":106.6,"p":1},{"t":109.2,"p":1},{"t":111,"p":91},{"t":112.3,"p":313},{"t":114.5,"p":221},{"t":116.2,"p":141},{"t":118,"p":-19},{"t":119.3,"p":-44},{"t":120.6,"p":191},{"t":124.1,"p":203},{"t":128.5,"p":196},{"t":131.6,"p":161},{"t":134.2,"p":111},{"t":137.3,"p":31},{"t":139.9,"p":6},{"t":142.5,"p":101},{"t":145.2,"p":101},{"t":146.9,"p":61},{"t":148.7,"p":191},{"t":151.3,"p":181},{"t":153.5,"p":151},{"t":155.7,"p":86},{"t":157.5,"p":201},{"t":160.1,"p":171},{"t":162.7,"p":156},{"t":165.8,"p":111},{"t":168.9,"p":71},{"t":171.5,"p":53},{"t":174.6,"p":76},{"t":177.6,"p":93},{"t":180.3,"p":86},{"t":183.3,"p":51},{"t":186.8,"p":41},{"t":189.9,"p":71},{"t":193.4,"p":141},{"t":196.5,"p":186},{"t":199.6,"p":181},{"t":203.1,"p":201},{"t":205.7,"p":206},{"t":207.5,"p":186},{"t":209.6,"p":236},{"t":211,"p":291},{"t":213.6,"p":236},{"t":216.2,"p":246},{"t":218.9,"p":241},{"t":221.9,"p":221},{"t":224.6,"p":161},{"t":225.9,"p":141},{"t":227.2,"p":-34},{"t":229,"p":-24},{"t":231.1,"p":61},{"t":233.8,"p":116},{"t":236.8,"p":131},{"t":239,"p":106},{"t":241.7,"p":161},{"t":244.7,"p":186},{"t":247.8,"p":196},{"t":251.3,"p":229},{"t":254.8,"p":201},{"t":259.2,"p":181},{"t":262.7,"p":196},{"t":266.2,"p":211},{"t":268.9,"p":266},{"t":271.1,"p":251},{"t":273.2,"p":211},{"t":275,"p":56},{"t":277.6,"p":46},{"t":280.3,"p":66},{"t":283.3,"p":51},{"t":285.5,"p":76},{"t":287.3,"p":-19},{"t":289,"p":216},{"t":293,"p":211},{"t":297.4,"p":176},{"t":301.8,"p":171},{"t":304.8,"p":181},{"t":307.5,"p":131},{"t":310.5,"p":81},{"t":312.7,"p":36},{"t":315.8,"p":51},{"t":319.3,"p":11},{"t":322.8,"p":-27},{"t":325.9,"p":-19},{"t":328.5,"p":1},{"t":330.3,"p":141},{"t":331.6,"p":196},{"t":333.3,"p":141},{"t":335.5,"p":146},{"t":338.2,"p":146},{"t":340.4,"p":91},{"t":342.5,"p":101},{"t":345.2,"p":106},{"t":347.8,"p":56},{"t":351.3,"p":61},{"t":354.8,"p":151},{"t":358.8,"p":221},{"t":361.8,"p":236},{"t":365.4,"p":201},{"t":368.9,"p":181},{"t":371.9,"p":201},{"t":376.3,"p":221},{"t":379.4,"p":201},{"t":383.8,"p":191},{"t":387.3,"p":213},{"t":391.7,"p":226},{"t":395.2,"p":206},{"t":399.6,"p":196},{"t":402.6,"p":211},{"t":405.7,"p":196},{"t":408.3,"p":141},{"t":411.4,"p":41},{"t":414.5,"p":-4},{"t":417.1,"p":6},{"t":420.2,"p":81},{"t":423.2,"p":136},{"t":425.9,"p":146},{"t":428.9,"p":131},{"t":432,"p":116},{"t":435.5,"p":131},{"t":439.9,"p":131},{"t":442.1,"p":81},{"t":444.3,"p":76},{"t":446.5,"p":141},{"t":448.7,"p":136},{"t":450.9,"p":196},{"t":453.9,"p":191},{"t":457.5,"p":156},{"t":461.8,"p":131},{"t":466.2,"p":121},{"t":470.6,"p":121},{"t":475,"p":131},{"t":479.4,"p":146},{"t":481.6,"p":81},{"t":484.6,"p":41},{"t":487.3,"p":3},{"t":490.3,"p":66},{"t":493.4,"p":71},{"t":496.1,"p":303},{"t":499.2,"p":276},{"t":501.3,"p":141},{"t":504.8,"p":91},{"t":507.9,"p":31},{"t":509.2,"p":31},{"t":511.8,"p":-54},{"t":514.5,"p":41},{"t":518.9,"p":131},{"t":522.4,"p":201},{"t":525.4,"p":181},{"t":529.8,"p":136},{"t":532.9,"p":151},{"t":537.3,"p":241},{"t":540.8,"p":226},{"t":544.3,"p":131},
{"t":549.6,"p":76},{"t":554,"p":96},{"t":558.3,"p":116},{"t":562.7,"p":131},{"t":567.1,"p":119},{"t":571.5,"p":163},{"t":575,"p":141},{"t":578.1,"p":51},{"t":581.1,"p":36},{"t":584.6,"p":-4},{"t":589,"p":-4},{"t":592.5,"p":11},{"t":594.3,"p":-39},{"t":596.1,"p":-79},{"t":597.8,"p":-64},{"t":600,"p":-89},{"t":602.2,"p":-54},{"t":605.3,"p":-49},{"t":606.6,"p":-99},{"t":608.8,"p":-114},{"t":611,"p":91},{"t":613.6,"p":86},{"t":615.4,"p":-39},{"t":618.9,"p":-109},{"t":622.8,"p":-159},{"t":626.3,"p":-109},{"t":630.7,"p":-64},{"t":635.1,"p":-69},{"t":638.2,"p":-84},{"t":641.7,"p":-9},{"t":645.2,"p":81},{"t":648.2,"p":111},{"t":651.3,"p":176},{"t":654.8,"p":206},{"t":659.2,"p":193},{"t":662.7,"p":196},{"t":664.9,"p":121},{"t":667.9,"p":123},{"t":670.2,"p":213},{"t":672.4,"p":121},{"t":675.9,"p":136},{"t":678.9,"p":171},{"t":682,"p":206},{"t":685.5,"p":211},{"t":689.9,"p":201},{"t":693.4,"p":161},{"t":696.5,"p":101},{"t":698.7,"p":31},{"t":702.2,"p":36},{"t":705.3,"p":91},{"t":708.3,"p":141},{"t":710.5,"p":131},{"t":712.3,"p":11},{"t":713.6,"p":56},{"t":716.2,"p":51},{"t":718.4,"p":71},{"t":721.5,"p":66},{"t":723.7,"p":99},{"t":725,"p":-19},{"t":727.2,"p":193},{"t":730.3,"p":169},{"t":733.8,"p":166},{"t":738.2,"p":189},{"t":741.7,"p":176},{"t":744.7,"p":166},{"t":749.1,"p":186},{"t":752.6,"p":201},{"t":755.7,"p":236},{"t":757.9,"p":21},{"t":761,"p":86},{"t":764.5,"p":86},{"t":768,"p":76},{"t":771.1,"p":61},{"t":775.4,"p":41},{"t":778.5,"p":33},{"t":782,"p":46},{"t":785.5,"p":51},{"t":788.6,"p":21},{"t":792.1,"p":16},{"t":795.2,"p":1},{"t":798.7,"p":-34},{"t":801.8,"p":-59},{"t":803.9,"p":1},{"t":806.1,"p":121},{"t":808.3,"p":81},{"t":810.5,"p":121},{"t":812.7,"p":116},{"t":814.9,"p":166},{"t":817.1,"p":256},{"t":819.3,"p":101},{"t":822.4,"p":111},{"t":825,"p":-9},{"t":828.1,"p":-14},{"t":831.1,"p":-4},{"t":834.6,"p":46},{"t":838.2,"p":116},{"t":841.2,"p":156},{"t":844.3,"p":186},{"t":847.8,"p":166},{"t":850.9,"p":136},{"t":854.4,"p":191},{"t":857.5,"p":236},{"t":860.1,"p":251},{"t":863.2,"p":221},{"t":866.2,"p":161},{"t":869.7,"p":86},{"t":873.2,"p":61},{"t":876.3,"p":31},{"t":879.4,"p":-19},{"t":882,"p":-39},{"t":885.1,"p":-64},{"t":886.8,"p":306},{"t":888.6,"p":141},{"t":891.7,"p":41},{"t":893.4,"p":-84},{"t":895.2,"p":211},{"t":898.2,"p":216},{"t":901.3,"p":196},{"t":904.8,"p":121},{"t":908.3,"p":81},{"t":911.4,"p":66},{"t":914.9,"p":16},{"t":918,"p":11},{"t":921.5,"p":26},{"t":924.6,"p":31},{"t":926.8,"p":106},{"t":929,"p":101},{"t":931.1,"p":96},{"t":933.8,"p":96},{"t":935.5,"p":-99},{"t":936.8,"p":-139},{"t":938.6,"p":-49},{"t":940.8,"p":-29},{"t":943,"p":-59},{"t":945.2,"p":-99},{"t":946.9,"p":41},{"t":949.6,"p":36},{"t":953.1,"p":51},{"t":956.6,"p":71},{"t":959.7,"p":126},{"t":962.7,"p":101},{"t":966.2,"p":71},{"t":969.7,"p":61},{"t":973.2,"p":76},{"t":977.2,"p":106},{"t":981.6,"p":111},{"t":986,"p":106},{"t":987.7,"p":1},{"t":989.5,"p":61},{"t":992.5,"p":106},{"t":994.7,"p":3},{"t":996.9,"p":71},{"t":999.1,"p":146},{"t":1002.2,"p":206},{"t":1005.7,"p":216},{"t":1008.8,"p":181},{"t":1012.3,"p":186},{"t":1015.4,"p":241},{"t":1018,"p":259},{"t":1019.7,"p":46},{"t":1023.2,"p":51},{"t":1027.6,"p":66},{"t":1032,"p":81},{"t":1036.4,"p":83},{"t":1039.9,"p":121},{"t":1043.4,"p":136},{"t":1046.9,"p":116},{"t":1050.4,"p":131},{"t":1053.9,"p":136},{"t":1057.5,"p":111},{"t":1060.5,"p":41},{"t":1062.7,"p":16},{"t":1064.9,"p":51},{"t":1068.4,"p":81},{"t":1071.5,"p":51},{"t":1074.1,"p":-4},{"t":1076.8,"p":-29},{"t":1080.3,"p":-34},{"t":1082.5,"p":-49},{"t":1085.5,"p":-29},{"t":1089,"p":-9},{"t":1092.5,"p":61},{"t":1095.6,"p":71},{"t":1097.8,"p":81},{"t":1100,"p":211},{"t":1102.2,"p":216},{"t":1104.4,"p":171},{"t":1107.4,"p":141},{"t":1110,"p":61},{"t":1111.8,"p":-69},{"t":1114,"p":-84},{"t":1116.2,"p":-14},{"t":1118.8,"p":-9},{"t":1121.9,"p":146},{"t":1124.1,"p":151},{"t":1127.6,"p":101},{"t":1130.7,"p":66},{"t":1133.7,"p":51},{"t":1137.3,"p":6},{"t":1140.8,"p":1},{"t":1143.9,"p":26},{"t":1146.9,"p":61},{"t":1149.6,"p":151},{"t":1152.6,"p":156},{"t":1157,"p":166},{"t":1160.1,"p":201},{"t":1162.7,"p":211},{"t":1165.8,"p":196},{"t":1168.9,"p":166},{"t":1172.4,"p":176},{"t":1175.9,"p":173},{"t":1178.9,"p":156},{"t":1181.1,"p":151},{"t":1184.2,"p":148}
]
},
"vconcat": [
{
 "width": 942, "height": 200,
 "title": {"text": "Altitude Tracking", "dy": 2},
 "data": {"name": "alt"},
 "layer": [
  {"mark": {"type": "line", "color": "#0072BD", "strokeWidth": 1, "clip": true},
   "encoding": {
    "x": {"field": "t", "type": "quantitative", "scale": {"domain": [0, 1200], "nice": false}, "axis": {"values": [0, 200, 400, 600, 800, 1000, 1200], "title": "Time (seconds)", "labelExpr": "'' + datum.value"}},
    "y": {"field": "h", "type": "quantitative", "scale": {"domain": [53.9, 123], "nice": false, "zero": false}, "axis": {"values": [60, 80, 100, 120], "title": "Altitude (m)", "labelExpr": "'' + datum.value"}}}},
  {"transform": [{"filter": "datum.c == 1"}],
   "mark": {"type": "point", "shape": "circle", "filled": false, "fill": "#D95319", "fillOpacity": 0.35, "stroke": "#D95319", "strokeOpacity": 0.9, "size": 210, "strokeWidth": 1.3, "opacity": 1, "clip": true},
   "encoding": {
    "x": {"field": "t", "type": "quantitative", "axis": {"orient": "top", "labels": false, "title": null, "values": [0, 200, 400, 600, 800, 1000, 1200]}},
    "y": {"field": "h", "type": "quantitative", "axis": {"orient": "right", "labels": false, "title": null, "values": [60, 80, 100, 120]}}}}
 ],
 "resolve": {"axis": {"x": "independent", "y": "independent"}}
},
{
 "width": 942, "height": 200,
 "title": {"text": "Velocity Tracking"},
 "data": {"name": "vel"},
 "layer": [
  {"mark": {"type": "line", "color": "#0072BD", "strokeWidth": 1, "clip": true},
   "encoding": {
    "x": {"field": "t", "type": "quantitative", "scale": {"domain": [0, 1200], "nice": false}, "axis": {"values": [0, 200, 400, 600, 800, 1000, 1200], "title": "Time (seconds)", "labelExpr": "'' + datum.value"}},
    "y": {"field": "v", "type": "quantitative", "scale": {"domain": [9.86, 15.24], "nice": false, "zero": false}, "axis": {"values": [10, 12, 14], "title": "Velocity (m/s)", "labelExpr": "'' + datum.value"}}}},
  {"mark": {"type": "line", "opacity": 0, "strokeWidth": 1},
   "encoding": {
    "x": {"field": "t", "type": "quantitative", "axis": {"orient": "top", "labels": false, "title": null, "values": [0, 200, 400, 600, 800, 1000, 1200]}},
    "y": {"field": "v", "type": "quantitative", "axis": {"orient": "right", "labels": false, "title": null, "values": [10, 12, 14]}}}}
 ],
 "resolve": {"axis": {"x": "independent", "y": "independent"}}
},
{
 "width": 942, "height": 200,
 "title": {"text": "Required Power with Time", "dy": 6},
 "data": {"name": "pow"},
 "layer": [
  {"mark": {"type": "line", "color": "#0072BD", "strokeWidth": 1, "clip": true},
   "encoding": {
    "x": {"field": "t", "type": "quantitative", "scale": {"domain": [0, 1200], "nice": false}, "axis": {"values": [0, 200, 400, 600, 800, 1000, 1200], "title": "Time (seconds)", "labelExpr": "'' + datum.value"}},
    "y": {"field": "p", "type": "quantitative", "scale": {"domain": [-200, 400], "nice": false, "zero": false}, "axis": {"values": [-200, 0, 200, 400], "title": "Power (Watts)", "labelExpr": "'' + datum.value"}}}},
  {"mark": {"type": "line", "opacity": 0, "strokeWidth": 1},
   "encoding": {
    "x": {"field": "t", "type": "quantitative", "axis": {"orient": "top", "labels": false, "title": null, "values": [0, 200, 400, 600, 800, 1000, 1200]}},
    "y": {"field": "p", "type": "quantitative", "axis": {"orient": "right", "labels": false, "title": null, "values": [-200, 0, 200, 400]}}}}
 ],
 "resolve": {"axis": {"x": "independent", "y": "independent"}}
}
]
}
